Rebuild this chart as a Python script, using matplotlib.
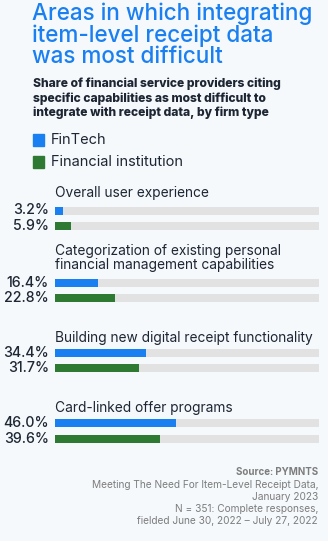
import matplotlib
matplotlib.use("Agg")
import matplotlib.pyplot as plt

categories = ["Overall user experience",
              "Categorization of existing personal\nfinancial management capabilities",
              "Building new digital receipt functionality",
              "Card-linked offer programs"]
fintech = [3.2, 16.4, 34.4, 46.0]
fin_inst = [5.9, 22.8, 31.7, 39.6]
series_names = ["FinTech", "Financial institution"]

BG = "#f5f9fc"
BLUE = "#1a7ff0"
GREEN = "#2e7a32"
TRACK = "#e2e2e2"
DARK = "#1e2633"
GRAY = "#7d7d7d"
FONT = "Inter"

W, H = 328, 541
fig = plt.figure(figsize=(W / 100, H / 100), dpi=100, facecolor=BG)

def fx(px):
    return px / W

def fy(py):
    return 1 - py / H

# Title
title_lines = ["Areas in which integrating", "item-level receipt data", "was most difficult"]
for i, t in enumerate(title_lines):
    fig.text(fx(32), fy(14 + i * 21.5), t, color=BLUE, fontsize=16.2, fontfamily=FONT,
             fontweight="medium", va="center", ha="left")

sub_lines = ["Share of financial service providers citing",
             "specific capabilities as most difficult to",
             "integrate with receipt data, by firm type"]
for i, t in enumerate(sub_lines):
    fig.text(fx(33), fy(84 + i * 14.5), t, color=DARK, fontsize=8.7, fontfamily=FONT,
             fontweight="heavy", va="center", ha="left")

# Legend
for i, (name, col) in enumerate(zip(series_names, [BLUE, GREEN])):
    cy = 140 + i * 22
    fig.patches.append(plt.Rectangle((fx(33), fy(cy + 5.5)), fx(11), 11 / H,
                                     transform=fig.transFigure, color=col, figure=fig))
    fig.text(fx(51), fy(cy), name, color=DARK, fontsize=10.5, fontfamily=FONT,
             va="center", ha="left")

# Bars axes: x in percent, y in pixel rows
ax = fig.add_axes([fx(55), 0, 264 / W, 1])
ax.set_xlim(0, 100)
ax.set_ylim(H, 0)
ax.axis("off")
ax.patch.set_alpha(0)

label_y = [193, 258.5, 338, 408]
blue_y = [210.5, 283, 353, 423]
green_y = [226, 298, 368, 439]
bh = 8
for i in range(len(categories)):
    ax.text(0, label_y[i], categories[i], color=DARK, fontsize=9.9, fontfamily=FONT,
            va="center", ha="left", linespacing=1.0)
    for yy, val, col in [(blue_y[i], fintech[i], BLUE), (green_y[i], fin_inst[i], GREEN)]:
        ax.barh(yy, 100, height=bh, color=TRACK, left=0)
        ax.barh(yy, val, height=bh, color=col, left=0)
        ax.text(-2.3, yy, f"{val:.1f}%", color=DARK, fontsize=10.2, fontfamily=FONT,
                fontweight="medium", va="center", ha="right")

# Source
fig.text(fx(318), fy(472), "Source: PYMNTS", color=GRAY, fontsize=7.0, fontfamily=FONT,
         fontweight="bold", ha="right", va="center")
src = ["Meeting The Need For Item-Level Receipt Data,", "January 2023",
       "N = 351: Complete responses,", "fielded June 30, 2022 \u2013 July 27, 2022"]
for i, t in enumerate(src):
    fig.text(fx(318), fy(485 + i * 12), t, color=GRAY, fontsize=7.3, fontfamily=FONT,
             ha="right", va="center")

fig.savefig("out.png", dpi=100, facecolor=BG)
